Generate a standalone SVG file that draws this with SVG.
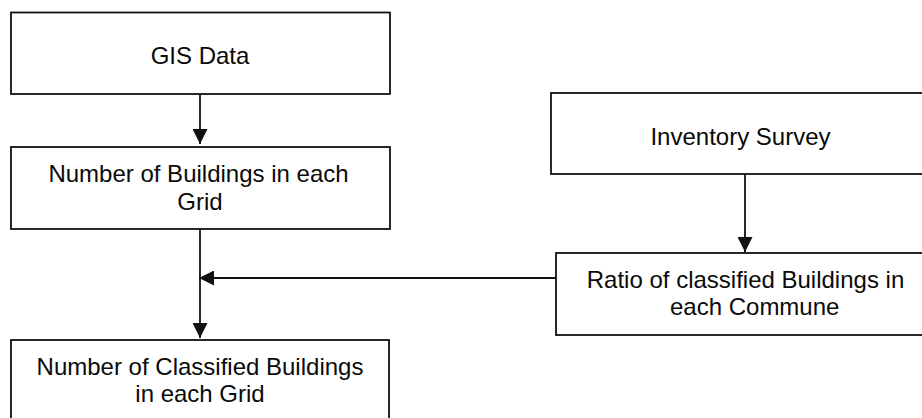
<svg xmlns="http://www.w3.org/2000/svg" width="922" height="418" viewBox="0 0 922 418">
<style>
  .box { fill: #ffffff; stroke: #111111; stroke-width: 1.8; }
  .lbl { font-family: "Liberation Sans", Arial, sans-serif; font-size: 24px; fill: #0a0a0a; text-anchor: middle; }
  .con { stroke: #111111; stroke-width: 1.8; fill: none; }
</style>
<defs>
  <marker id="ah" markerUnits="userSpaceOnUse" markerWidth="15" markerHeight="15" refX="15" refY="7.5" orient="auto">
    <path d="M0,0 L15,7.5 L0,15 z" fill="#111111"/>
  </marker>
</defs>
<rect width="922" height="418" fill="#ffffff"/>
<g id="gis-data">
  <rect class="box" x="11" y="12.5" width="379" height="81.5"/>
  <text class="lbl" x="200" y="64">GIS Data</text>
</g>
<g id="buildings-grid">
  <rect class="box" x="11" y="147" width="379" height="82"/>
  <text class="lbl" x="198.5" y="182">Number of Buildings in each</text>
  <text class="lbl" x="200" y="209.5">Grid</text>
</g>
<g id="inventory-survey">
  <rect class="box" x="551" y="93" width="390" height="81"/>
  <text class="lbl" x="740.5" y="144.5">Inventory Survey</text>
</g>
<g id="ratio-commune">
  <rect class="box" x="556" y="253" width="390" height="82"/>
  <text class="lbl" x="745.5" y="287.5">Ratio of classified Buildings in</text>
  <text class="lbl" x="754.7" y="315">each Commune</text>
</g>
<g id="classified-grid">
  <rect class="box" x="11" y="340" width="378" height="95"/>
  <text class="lbl" x="200" y="375">Number of Classified Buildings</text>
  <text class="lbl" x="200" y="402">in each Grid</text>
</g>
<g id="connectors">
  <line class="con" x1="200" y1="94" x2="200" y2="144" marker-end="url(#ah)"/>
  <line class="con" x1="200" y1="229" x2="200" y2="338" marker-end="url(#ah)"/>
  <line class="con" x1="556" y1="278" x2="199" y2="278" marker-end="url(#ah)"/>
  <line class="con" x1="745" y1="174" x2="745" y2="252" marker-end="url(#ah)"/>
</g>
</svg>
